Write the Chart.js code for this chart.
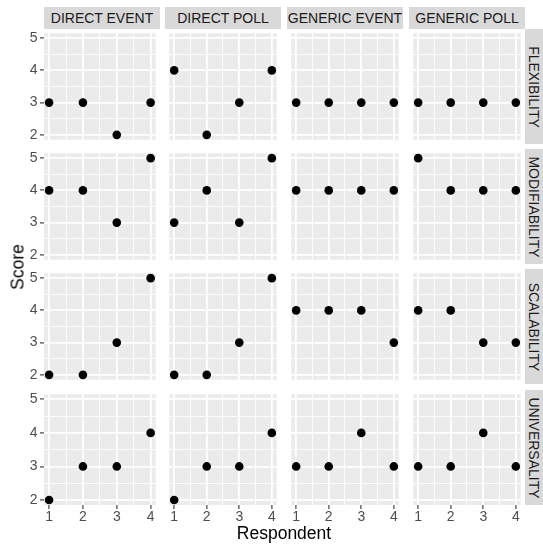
<!DOCTYPE html>
<html>
<head>
<meta charset="utf-8">
<script src="https://cdn.jsdelivr.net/npm/chart.js@4.4.1/dist/chart.umd.min.js"></script>
<style>
    body { margin: 0; background: #fff; }
    #plot { position: relative; width: 543px; height: 544px; overflow: hidden; font-family: "Liberation Sans", Arial, sans-serif; }
    #plot canvas { position: absolute; }
    .strip { position: absolute; background: #D9D9D9; color: #1A1A1A; font-size: 14px; display: flex; align-items: center; justify-content: center; white-space: nowrap; }
    .strip.side span { transform: rotate(90deg); }
    .title { position: absolute; color: #000; font-size: 17.5px; white-space: nowrap; }
</style>
</head>
<body>
<div id="plot"></div>
<script>
// data
var respondents = [1, 2, 3, 4];
var approaches = ['DIRECT EVENT', 'DIRECT POLL', 'GENERIC EVENT', 'GENERIC POLL'];
var qualities = ['FLEXIBILITY', 'MODIFIABILITY', 'SCALABILITY', 'UNIVERSALITY'];

// scores per approach, one value per respondent
var flexibility   = [[3, 3, 2, 3], [4, 2, 3, 4], [3, 3, 3, 3], [3, 3, 3, 3]];
var modifiability = [[4, 4, 3, 5], [3, 4, 3, 5], [4, 4, 4, 4], [5, 4, 4, 4]];
var scalability   = [[2, 2, 3, 5], [2, 2, 3, 5], [4, 4, 4, 3], [4, 4, 3, 3]];
var universality  = [[2, 3, 3, 4], [2, 3, 3, 4], [3, 3, 4, 3], [3, 3, 4, 3]];
var scoreRows = [flexibility, modifiability, scalability, universality];

var xTicks = [1, 2, 3, 4];
var xMinor = [1.5, 2.5, 3.5];
var yTicks = [2, 3, 4, 5];
var yMinor = [2.5, 3.5, 4.5];

// layout
var colLeft = [44, 165, 287, 409];
var rowTop = [29, 149, 269, 390];
var panelW = 116, panelH = 115;
var yAxisW = 44, xAxisH = 20;
var FONT = '"Liberation Sans", Arial, sans-serif';

var plot = document.getElementById('plot');

var panelBg = {
    id: 'panelBg',
    beforeDraw: function(chart){
        var a = chart.chartArea, ctx = chart.ctx;
        ctx.save();
        ctx.fillStyle = '#EBEBEB';
        ctx.fillRect(a.left, a.top, a.right - a.left, a.bottom - a.top);
        ctx.restore();
    }
};

function isMajor(v){ return Math.abs(v - Math.round(v)) < 1e-9; }

function setTicks(list){
    return function(scale){
        scale.ticks = list.slice().sort(function(a, b){ return a - b; }).map(function(v){ return {value: v}; });
    };
}

function fixSize(prop, size){
    return function(scale){
        scale[prop] = size;
        scale.paddingTop = 0; scale.paddingBottom = 0;
        scale.paddingLeft = 0; scale.paddingRight = 0;
    };
}

function gridOpts(showTicks){
    return {
        color: '#FFFFFF',
        lineWidth: function(c){ return isMajor(c.tick.value) ? 1.8 : 0.9; },
        drawTicks: showTicks,
        tickLength: 4,
        tickWidth: 1.1,
        tickColor: function(c){ return isMajor(c.tick.value) ? '#333333' : 'rgba(0,0,0,0)'; }
    };
}

function tickLabel(v){ return isMajor(v) ? String(v) : ''; }

qualities.forEach(function(q, r){
    approaches.forEach(function(ap, c){
        var leftAxis = c === 0, bottomAxis = r === qualities.length - 1;
        var w = panelW + (leftAxis ? yAxisW : 0);
        var h = panelH + (bottomAxis ? xAxisH : 0);
        var cv = document.createElement('canvas');
        cv.width = w; cv.height = h;
        cv.style.left = (colLeft[c] - (leftAxis ? yAxisW : 0)) + 'px';
        cv.style.top = rowTop[r] + 'px';
        plot.appendChild(cv);

        var scores = scoreRows[r][c];
        new Chart(cv, {
            type: 'scatter',
            data: {
                datasets: [{
                    data: respondents.map(function(x, i){ return {x: x, y: scores[i]}; }),
                    backgroundColor: '#000000',
                    borderWidth: 0,
                    pointRadius: 4.3,
                    pointHoverRadius: 4.3
                }]
            },
            options: {
                responsive: false,
                animation: false,
                events: [],
                layout: { padding: 0 },
                plugins: { legend: { display: false }, tooltip: { enabled: false } },
                clip: false,
                scales: {
                    x: {
                        type: 'linear',
                        min: 0.85, max: 4.15,
                        afterBuildTicks: setTicks(xTicks.concat(xMinor)),
                        afterFit: fixSize('height', bottomAxis ? xAxisH : 0),
                        border: { display: false },
                        grid: gridOpts(bottomAxis),
                        ticks: {
                            display: bottomAxis,
                            autoSkip: false,
                            maxRotation: 0,
                            padding: 0,
                            color: '#4D4D4D',
                            font: { family: FONT, size: 14 },
                            callback: tickLabel
                        }
                    },
                    y: {
                        type: 'linear',
                        min: 1.85, max: 5.15,
                        afterBuildTicks: setTicks(yTicks.concat(yMinor)),
                        afterFit: fixSize('width', leftAxis ? yAxisW : 0),
                        border: { display: false },
                        grid: gridOpts(leftAxis),
                        ticks: {
                            display: leftAxis,
                            autoSkip: false,
                            padding: 2.5,
                            color: '#4D4D4D',
                            font: { family: FONT, size: 14 },
                            callback: tickLabel
                        }
                    }
                }
            },
            plugins: [panelBg]
        });
    });
});

// facet strips
approaches.forEach(function(ap, c){
    var d = document.createElement('div');
    d.className = 'strip';
    d.style.left = colLeft[c] + 'px'; d.style.top = '7px';
    d.style.width = panelW + 'px'; d.style.height = (rowTop[0] - 7) + 'px';
    d.innerHTML = '<span>' + ap + '</span>';
    plot.appendChild(d);
});
qualities.forEach(function(q, r){
    var d = document.createElement('div');
    d.className = 'strip side';
    d.style.left = (colLeft[3] + panelW) + 'px'; d.style.top = rowTop[r] + 'px';
    d.style.width = (543 - colLeft[3] - panelW) + 'px'; d.style.height = panelH + 'px';
    d.innerHTML = '<span>' + q + '</span>';
    plot.appendChild(d);
});

// axis titles
var xt = document.createElement('div');
xt.className = 'title';
xt.textContent = 'Respondent';
xt.style.left = '284px'; xt.style.top = '533px';
xt.style.transform = 'translate(-50%, -50%)';
plot.appendChild(xt);

var yt = document.createElement('div');
yt.className = 'title';
yt.textContent = 'Score';
yt.style.left = '17.5px'; yt.style.top = '267px';
yt.style.transform = 'translate(-50%, -50%) rotate(-90deg)';
plot.appendChild(yt);
</script>
</body>
</html>
